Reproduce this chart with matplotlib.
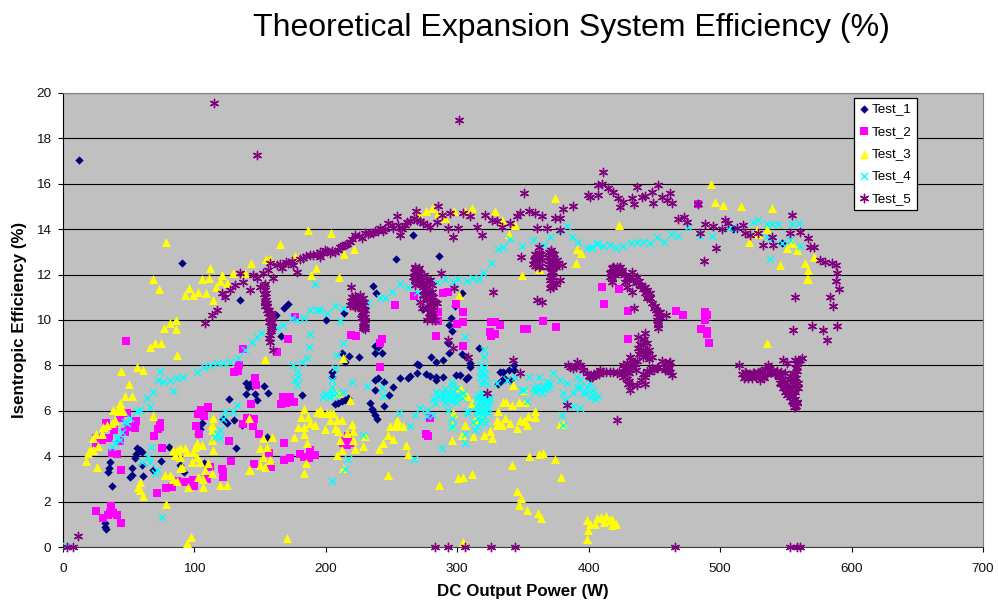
import matplotlib
matplotlib.use("Agg")
import matplotlib.pyplot as plt

plt.rcParams['font.family'] = ['Liberation Sans', 'DejaVu Sans']

#Valores, (potencia W, eficiencia %)
test_1 = [(12,17.05),(90.8,12.5),(134.4,10.9),(171.5,10.7),(168,10.55),(162,10.2),(166,9.28),
    (139,7.24),(141,7.06),(142,7.2),(144,7.1),(153,7.1),(156,6.77),(146,6.74),(147.4,6.47),(139,6.74),
    (126,6.5),(182,6.68),(106,5.45),(104,5.2),(103,5),(122,5.66),(124.5,5.45),(130,5.6),(136,5.37),(132,4.36),
    (155,4.86),(56,4.34),(55.5,4.1),(60,4.2),(54.8,3.9),(58.6,4.27),(80.4,4.42),(74.6,3.8),(68.7,3.4),
    (35.8,3.74),(35,3.46),(34.5,3.32),(52.2,3.46),(52.2,3.17),(51,3.1),(60.6,3.12),(60,3.6),(37,2.7),
    (92,3.32),(107,3.68),(89,3.6),(32,1.04),(32,0.9),(32.7,0.8),
    (266,13.73),(253.7,12.69),(286,12.82),(235.7,11.5),(238,11.2),(214,10.3),(200,10),(274,10.5),(303.4,11.2),
    (298,10.6),(295,10.1),(294,9.8),(296,9.5),(292.8,9),(237.5,8.87),(240,8.8),(237.5,8.54),(243,8.54),
    (225,8.35),(217.7,8.43),(212.6,8.54),(214.6,8.14),(204.5,7.7),(204.5,7.5),(280,8.35),(284,8.14),(289.5,8.24),
    (294,8.54),(303.4,8.5),(269,8.05),(271,8),(316.4,8.76),(307,8.39),(309.8,8.1),(310,7.92),
    (256.5,7.44),(262.8,7.44),(264,7.55),(269,7.66),(276,7.6),(279,7.54),(284,7.5),(289.5,7.5),(284,7.36),
    (299,7.58),(302,7.58),(308.5,7.5),(307,7.39),(237.5,7.36),(240,7.44),(244,7.29),(237.5,6.92),(251,7.07),
    (248,6.69),(244,6.2),(233.7,6.33),(235,6.1),(236,5.97),(237.5,5.82),(239,5.65),
    (207,6.3),(209.6,6.36),(212,6.41),(214.6,6.48),(217,6.55),(332.6,7.73),(335,7.73),(339,7.8),(343.5,8),
    (343.5,7.8),(334,7.36),(331,7.19),(336.4,7.39),(340,7.36),(510,14),(547,13.4)]

test_2 = [(48,9.07),(137,8.73),(171.5,9.17),(163,8.6),(176.5,10.14),(134,8),(130.4,7.69),(133,7.75),(146,7.46),
    (147,7.13),(167.4,6.6),(173,6.6),(176,6.4),(165.6,6.28),(170,6.33),(143,6.28),(110,6.18),(105,6.03),
    (103,5.86),(107.5,5.77),(101,5.34),(103.7,4.96),(140,5.7),(145,5.65),(137,5.42),(144.3,5.33),(149,4.96),
    (157,4.12),(168,4.58),(173,3.92),(168,3.83),(180.4,4.1),(183.4,3.98),(188,4.27),(187.5,3.9),(191.8,4.05),
    (158,3.54),(145.4,3.65),(126.3,4.68),(128,3.77),(121.2,3.45),(121.5,3.29),(121.5,3.1),(112,3.54),(109.3,3),
    (99,2.95),(98,2.8),(93,2.85),(86.5,2.9),(82.7,2.66),(78.4,2.6),(71.3,2.36),(100,2.69),(44,3.39),(75,4.37),
    (25,1.6),(36.3,1.8),(35.8,1.48),(34.5,1.41),(38.3,1.48),(41.3,1.41),(30.7,1.26),(43.9,1.04),
    (74,5.47),(72.5,5.2),(73.8,5.3),(69.5,4.9),(55.5,5.56),(54.8,5.23),(47,5.08),(49.7,5.3),(39,5.15),
    (32.5,5.45),(35,4.81),(43,4.68),(43.4,5.67),(48.4,5.9),(37,4.12),(41,4.1),(24.8,4.8),(29.4,4.71),(25,4.56),
    (267,11.06),(252.4,10.68),(289,11.2),(293.3,11.25),(299,10.72),(304,10.36),(285,10.34),(285,9.97),(282,10.03),
    (304,9.93),(299.6,9.84),(283.6,9.3),(304,8.87),(219,9.36),(223,9.31),(242.5,9.17),(241.3,9),(241,7.93),
    (326,9.89),(329,9.92),(332.6,9.76),(325,9.46),(329,9.4),(325.7,9.3),(351,9.59),(353.4,9.59),(365.3,9.97),
    (375,9.7),(276.3,5),(277.5,4.87),(279.3,5.67),(213.4,4.57),(216,4.5),(218.4,4.57),(217,4.87),(214.6,4.65),
    (410,11.44),(423,11.38),(411.7,10.72),(429.7,10.4),(429.7,9.16),(466.5,10.4),(472,10.2),(488.5,10.37),
    (489.8,10.2),(488.5,10),(485.5,9.6),(490,9.5),(490,9.37),(491.8,9),(483,15.1)]

test_3 = [(78,13.42),(165,13.34),(112,12.3),(143,12.5),(106,11.8),(111.4,11.86),(121.2,12),(119.5,11.7),
    (68.2,11.82),(72.8,11.35),(95.9,11.4),(92.6,11.1),(99,11.1),(102.5,11.24),(109,11.2),(114,10.9),(116.4,11.46),
    (124.5,11.64),(129,12.05),(138.5,12.08),(154.2,12.7),(157.5,12.7),(176.6,12.8),(192.3,12.3),(189,12),
    (186.7,13.96),(86,10),(81.4,9.85),(77,9.66),(86,9.6),(74.6,8.97),(69.8,8.97),(66.5,8.82),(86.7,8.45),(154,8.3),
    (56.6,7.94),(60.6,7.8),(44,7.75),(50,7.19),(47.4,6.63),(52.5,6.66),(43.6,6.36),(42.9,6.18),(37.8,6.02),
    (42,6),(45.9,6),(68.7,5.77),(39.6,5.59),(37,5.47),(33.2,5.37),(30.7,5.27),(29.4,5),(25,5),(23,4.79),(26.9,4.45),
    (23,4.27),(20.5,4.27),(19.3,4.12),(17.5,3.79),(25.6,3.54),(84,4.27),(86.5,4.27),(89,4.35),(93,4.35),(85.2,4.05),
    (89,3.98),(94,4.2),(99,4.2),(101.7,4.56),(100.4,4.42),(101.7,3.98),(104.2,3.76),(98,3.76),(90.3,3.54),(89,3.5),
    (110.6,3.68),(108,3.39),(113,3.24),(103,3.1),(106.8,3),(106.8,2.66),(95.4,2.66),(77.6,3.17),(81.4,3.17),(84,3),
    (86.5,2.9),(58.6,2.88),(58.6,2.51),(61,2.25),(57.3,2.66),(78,1.89),(114.4,4.27),(105.5,4.49),(113,5.37),
    (114.4,5.67),(113,5.15),(113,4.71),(141.8,5.67),(142.3,3.39),(152.5,4.79),(158.8,4.86),(150,4.34),(155,4.42),
    (152.5,3.98),(150,3.61),(157.5,3.83),(153.7,3.54),(141.5,3.39),(119.5,2.73),(124.5,2.73),(94,0.19),(97.4,0.43),
    (170.2,0.38),(183,6.1),(181,5.74),(186.7,5.74),(193,5.96),(195.6,6.03),(179,5.3),(183,5.3),(188,5.45),
    (191.8,5.37),(183,5),(185.4,4.56),(175.8,4.83),(185,3.68),(183.4,3.24),
    (203.7,13.82),(214,12.91),(221.7,13.12),(210.3,11.88),(270.4,14.7),(276.3,14.8),(280.6,14.95),(285.7,14.7),
    (290.7,14.5),(297.8,14.78),(306,14.78),(311,14.95),(328.8,14.82),(334,14.4),(344,14.19),(339,13.78),(391,13.12),
    (394.2,12.94),(390,12.5),(362,12.24),(349,12),(374.5,15.36),(301.6,11.08),(213.4,8.32),
    (203,5.9),(200.7,5.9),(205.7,5.9),(203,5.6),(208.3,5.6),(207,5.23),(199.4,5.19),(212,5.6),(197,5.9),(209.6,5.09),
    (215.9,5.03),(219.7,5.4),(221,5.09),(221,4.72),(210.8,4.72),(212,4.28),(208.3,4.06),(222.2,4.31),(228.6,4.43),
    (229.8,4.87),(218.4,6.48),(207,6.77),(209.6,6.77),(213.4,3.47),(254,5.6),(255,5.38),(252.7,5.31),(248.9,5.31),
    (259,5.34),(247.6,4.94),(250.9,4.75),(243.8,4.57),(240.8,4.31),(261,4.5),(262.3,4.09),(247.6,3.18),(286.4,2.74),
    (300.9,3.03),(304.7,3.1),(311.5,3.22),(295.8,4.72),(297,5.9),(295.8,5.38),(302,7.07),(304.7,6.77),(307.2,6.63),
    (311,6.33),(306,5.38),(303.4,4.94),(311.8,4.87),(320,4.94),(326.3,4.79),(313.6,5.6),(317.4,5.9),(325,5.09),
    (331.3,6),(330,5.6),(335,6.4),(337,6.4),(341.5,6.26),(347,6.4),(351.6,6.4),(359.2,6),(359.2,5.72),(354,5.75),
    (347.8,5.6),(345.3,5.23),(340,5.45),(333.9,5.38),(330,5.38),(352.9,5.38),(350.4,5.53),(377.8,5.41),(380.8,5.41),
    (336.4,5.67),(350.4,6.92),(342.7,7.14),(304.7,0.24),(341.5,3.62),(354.7,4),(362.5,4.1),(365,4.13),(374.5,3.88),
    (378.8,3.08),(345.3,2.47),(348.3,2.15),(347.3,1.83),(353.4,1.64),(361.3,1.49),(363.8,1.27),(398.6,1.2),(401,1),
    (406.2,1.27),(399.8,0.76),(398.6,0.35),(405,1.0),(409,1.3),(413,1.35),(416,1.2),(418,1.25),(421,1.0),(418,0.95),
    (412,1.1),(492.8,15.99),(496,15.2),(502.5,15.08),(516,15),(539.3,14.95),(423.3,14.2),(527.9,13.96),(529,13.8),
    (535.5,14),(522.3,13.44),(550.7,13.16),(554.5,13.38),(558.3,13.08),(571.7,12.76),(545.6,12.42),(564.6,12.5),
    (567,12.2),(566,11.8),(567,11.8),(536,8.97)]

test_4 = [(2,0.05),(191.8,11.57),(188,10.44),(193,10.44),(183,10.07),(178,10),(174,10.07),(167.7,9.78),(162.6,9.63),
    (151,9.41),(147.4,9.26),(143.6,9.04),(138.5,8.68),(133.4,8.31),(127,8.16),(122,8.09),(117,8.09),(112,8),(107,7.94),
    (101.7,7.72),(91.6,7.5),(86.5,7.43),(81.4,7.35),(76.3,7.28),(72.5,7.35),(68.7,6.84),(63.7,6.55),(66.2,6.18),
    (58.6,6.03),(56,6),(51,5.67),(47.2,5.52),(44.6,5.08),(40.8,4.79),(37,4.42),(73.8,7.75),(83.5,6.88),(48.4,5.45),
    (42,4.86),(43.4,4.71),(39.6,4.56),(188,9.37),(187.5,8.79),(185.4,8.31),(181.6,8.16),(175.3,8),(177.8,7.72),
    (179,7.5),(178.3,7.13),(176.6,7.35),(132.2,6.25),(129.6,5.96),(123.3,5.96),(122,5.66),(119.5,5.15),(115.7,4.86),
    (119.5,4.78),(117,5),(67,4.42),(65,3.98),(66.2,3.76),(59.9,3.76),(71.3,3.39),(70,3.24),(75.6,1.33),
    (195.6,10.45),(200.7,10.3),(207,10.6),(213.4,10.52),(210.8,9.97),(213.4,8.98),(208.3,8.46),(207,7.88),(204.5,7.36),
    (204.5,7.07),(199.4,6.7),(204.5,6.77),(213.4,6.85),(220.2,7.26),(231.1,7.11),(242.5,7),(243.8,6.63),(228.6,4.94),
    (217.2,3.87),(214.6,3.43),(204.5,2.91),(267.4,3.87),(288.7,4.38),(305.5,4.57),(306,9.24),
    (232.4,10.74),(241.3,10.96),(245,10.96),(250,11.25),(256.5,11.59),(262.8,11.47),(269.2,11.25),(284.4,11.69),
    (290.7,11.81),(297,11.69),(300.9,11.8),(307.2,11.72),(312.3,11.84),(316.9,11.8),(319.9,12.09),(325.5,12.5),
    (331.3,13.13),(334.6,13.23),(340.2,13.56),(349,13.26),(357.5,13.53),(365.6,13.3),(370.6,13.67),(378.3,13.9),
    (383.3,14.12),(387.1,13.67),(392.2,13.42),(398.6,13.16),(402.4,13.16),(406.2,13.38),
    (281.9,6.5),(285.7,6.63),(289.5,6.55),(293.3,6.77),(295.8,7.29),(297,6.85),(300.9,6.63),(290.7,6.33),(295.8,6.41),
    (299.6,7),(303.4,6.55),(293.3,6.04),(304.7,6.77),(297,5.31),(271.7,6.11),(276.8,6.04),(281.9,5.82),(267.9,5.82),
    (264,5.34),(256,5.9),(276.8,5.75),(295.8,5.67),(295,5.3),(320,6.63),(317.4,6.41),(322.5,6.33),(320,6.04),
    (316.1,5.89),(323.7,5.89),(318.6,5.6),(325,6.56),(313.6,5.16),(308.5,5.89),(306,5),(321.2,5.45),(318.6,7.66),
    (320,7.36),(317.4,7.5),(320,8.39),(320,8.68),(322.5,7.22),(330,7.22),(337.7,7.36),(344,7.5),(351,6.92),(352.9,6.41),
    (354.2,7.5),(349,6.92),(307.2,5.97),(358,7),(361.8,6.92),(365.6,7.07),(370.6,7.22),(373.2,7.66),(378.3,7.36),
    (383.3,7.22),(380.8,6.77),(382,6.48),(379.5,5.82),(380.8,5.38),(388.4,6.19),(393.5,6.11),(391,7.51),(393.5,7.36),
    (398.6,7.07),(388.4,6.77),(396,6.77),(403.6,6.7),(407.4,6.63),(361.8,7.51),(364.3,6.77),(368.1,7.29),(393.5,7.07),
    (401,7.22),(391,7.07),(398,6.8),(401,6.6),(403,6.9),(405,6.5),
    (402,13.23),(406.6,13.35),(411,13.26),(416.2,13.3),(420.8,13.19),(425.9,13.26),(432,13.41),(436.5,13.42),
    (441.6,13.45),(446.7,13.38),(451.7,13.67),(457.3,13.45),(462.6,13.77),(468.2,13.72),(475.3,14.08),(484.7,13.72),
    (493.6,13.7),(507,14.04),(513.9,14.04),(525.3,14.3),(529,14.4),(535.5,14.23),(539.3,14.23),(544.3,14.21),
    (554.5,14.21),(560.3,14.26),(538,12.69),(535.5,13.67),(539.3,13.55),(546.9,13.38),(553.2,13.52),(560.8,13.26),
    (316,6.7),(318,6.75),(320,6.8),(322,6.7),(315,6.5),(318,6.5),(321,6.5),(324,6.45),(314.5,6.2),(317,6.2),(320,6.25),
    (323,6.15),(315,6),(318,5.95),(322,5.95),(316,5.7),(320,5.75),(312,5.5),(315,5.3),(317,5.5),(318,7.8),(320,7.9),
    (321,7.6),(319,7.2),(318,8),(284,6.85),(287,6.7),(289,6.8),(291,6.6),(293,6.5),(295,6.75),(296,6.55),(298,6.6),
    (299,6.4),(291,6.95),(296,7.1),(283,6.35),(198,6.6),(201,6.75),(203,6.6),(206,6.7),(208,6.8),(359,6.85),(361,7.1),
    (363,6.95),(366,6.95),(368,7.1),(370,7)]

test_5 = [(11.7,0.48),(7.8,0),(2.8,0),(115,19.56),(147.6,17.27),(301.4,18.8),
    (108,9.85),(113,10.22),(117,10.44),(120.7,11.17),(123.3,11),(127,11.32),(130.9,11.54),(134.7,12.05),(137.2,11.68),
    (142.3,11.32),(144.8,12),(147.4,11.83),(149.9,11.46),(152.5,12.05),(156.3,12.2),(160,11.83),(157.5,12.5),
    (162.6,12.42),(166.4,12.27),(171.5,12.5),(175.3,12.42),(177.8,12.13),(182.9,12.71),(188,12.86),(193,12.9),
    (195.6,12.79),(153.7,11.32),(153.7,11),(153.7,10.73),(155,10.44),(158.8,10.07),(158.8,9.7),(157.5,9.34),
    (157.5,9.04),(160,8.68),(154.5,10.9),(156,10.3),(157,9.9),(158,9.5),(159,10.2),(154,10.6),(155.5,10.6),
    (195.6,13.01),(199.4,13.09),(203.2,12.94),(207,13),(210.8,13.23),(214.6,13.31),(218.4,13.45),(222.2,13.75),
    (227.3,13.6),(229.8,13.85),(233.7,13.85),(237.5,13.9),(241.3,14.04),(243.8,13.9),(247.6,14.26),(251.4,14.04),
    (254.5,14.56),(256.5,13.75),(260.3,14.19),(264.1,14.34),(268.4,14.8),(269.2,14.41),(274.2,14.26),(279.3,14.11),
    (284.4,14.33),(285.2,15),(288.2,14.63),(293.3,14.04),(294.5,14.7),(297,13.67),(300.9,14.04),(304.7,14.7),
    (309.8,14.56),(314.8,14.11),(318.6,13.75),(321.2,14.63),(326.3,14.41),(330,14.34),(333.9,14.11),(340.2,14.26),
    (345.3,14.56),(347.8,14.7),(354.2,14.78),(359.2,14.7),(364.3,14.56),(360.5,14.04),(368.1,14.04),(374.5,14.48),
    (378.3,14.48),(377.8,13.97),(380.8,14.88),(388.4,15.02),(399.8,15.51),(350.4,15.58),
    (267.9,12.28),(270.4,12.21),(266.6,11.91),(269.2,11.77),(271.7,11.62),(274.2,11.47),(276.8,11.62),(279.3,11.77),
    (274.2,11.1),(276.8,10.89),(278,10.52),(279.3,10.3),(280.6,10),(283.1,10),(276.8,10),(271.7,10.81),(273,10.52),
    (267.9,11.84),(271.7,11.91),(287.7,12.09),(219.2,11.47),(297.8,11.4),(327.5,11.25),(308.5,8.39),(293.3,9.12),
    (297,8.76),(342.7,8.24),(347.8,7.66),(322.5,6.77),(383.3,6.26),(219.7,11.03),(221,10.81),(218.4,10.67),(222.2,10.59),
    (226,11.1),(227.3,10.81),(224.8,10.59),(228.6,10.67),(229.8,10.44),(227.3,10.37),(228.6,10.22),(229.8,10),
    (229.8,9.71),(228.6,9.64),(361.8,13.23),(360.5,12.87),(358,12.65),(364.3,12.65),(360.5,12.5),(361.8,12.35),
    (371.4,13.09),(369.4,12.79),(373.2,12.79),(371.9,12.5),(369.4,12.35),(379.5,12.43),(375.7,12.5),(371.9,12.13),
    (370.6,11.77),(373.2,11.47),(378.3,11.77),(370.6,11.4),(360.5,10.89),(364.3,10.81),(348.6,12.79),
    (384.6,8.02),(391,8.17),(394.8,7.95),(398.6,7.66),(402.4,7.51),(406.2,7.66),(408.7,7.8),(388.4,7.88),
    (410.6,16.53),(409.9,16),(407.3,15.95),(407.3,15.51),(401,15.43),(415,15.8),(418.8,15.65),(422.6,15.36),(426.4,15.21),
    (432.7,15.36),(423.8,14.96),(434.7,15.11),(436.5,15.84),(440.3,15.43),(442.9,15.46),(449.2,15.14),(447.9,15.65),
    (453,15.95),(455.5,15.43),(461.9,15.58),(459.4,15.29),(463.2,15.17),(468.2,14.43),(472.8,14.52),(474.6,14.33),
    (482.9,15.1),(488.5,14.23),(484.7,13.82),(488,12.6),(496.9,13.16),(494.9,14.14),(501.2,14),(503.7,14.41),(506.3,14.26),
    (512.6,14.04),(517.7,14.18),(519,13.82),(522.8,13.74),(529.1,13.82),(532.9,13.3),(539.3,13.67),(540.5,13.3),
    (553.2,13.82),(554.5,14.62),(560.8,13.89),(567.2,13.6),(568.4,13.23),(571.5,13.23),(576,12.64),(579.9,12.57),
    (585,12.5),(588.2,12.42),(588.7,12.09),(588,11.73),(590.8,11.37),(583.7,11),(586.2,10.6),(588.7,9.75),(581.1,9.12),
    (578.6,9.56),(569.7,9.75),(555.8,9.56),(556.8,11),
    (418.8,12.35),(423.8,12.35),(416.2,12.06),(420,11.98),(425.1,12.13),(417.5,11.69),(427.6,11.69),(432.7,12.13),
    (428.9,11.47),(432.7,11.25),(436.5,11.91),(439.1,11.54),(442.9,11.47),(446.7,11.18),(444.1,10.96),(450.5,10.6),
    (454.3,10.37),(454.3,10.15),(458.8,10.22),(453,9.85),(452.5,9.63),(434.7,10.51),
    (401,7.5),(406,7.65),(411,7.73),(416.2,7.73),(421.3,7.65),(426.4,7.73),(426.4,8.02),(431.4,8.39),(431.4,8.02),
    (434,8.17),(437.8,9.27),(442.9,9.41),(437.8,8.75),(444.1,8.97),(445.4,8.46),(447.9,8.39),(426.4,7.5),(430.2,7.2),
    (431.4,6.92),(436.5,7.14),(442.9,7.2),(442.9,7.5),(447.9,7.87),(453,7.95),(458.1,8.09),(461.9,8.17),(460.6,7.8),
    (463.2,7.58),(458.1,7.8),(421.3,5.6),
    (514.4,8.02),(519,7.72),(519,7.5),(525.3,7.65),(530.4,7.36),(530.4,7.72),(536.7,8.02),(538,7.72),(544.3,7.58),
    (545.6,7.21),(548.1,8.24),(550.7,8.09),(557,8.24),(562.1,8.31),(558.3,7.95),(555.8,7.65),(553.2,7.36),(549.4,7.07),
    (550.7,6.7),(555.8,6.4),(557,6.18),(558.3,6.4),(553.2,6.92),(559.6,7.21),
    (283,0),(293.3,0),(306,0),(325.5,0),(344,0),(465.7,0),(553,0),(558.6,0),(561,0),
    #zonas densas
    (517,7.6),(518.5,7.45),(520,7.65),(521.5,7.45),(523,7.6),(524.5,7.45),(526,7.65),(527.5,7.5),(529,7.7),(530.5,7.55),
    (532,7.75),(533,7.45),(534.5,7.85),(536,7.6),(537.5,7.9),(539,7.7),(540.5,7.8),(542,7.6),(543.5,7.75),(545,7.5),
    (546,7.7),(547.5,7.4),(549,7.65),(546,7.2),(547.5,7),(548.5,7.25),(549.5,6.85),(550.5,7.15),(551.5,6.75),(552.5,7),
    (553,6.6),(554,6.85),(554.5,6.45),(555.5,6.65),(556,6.3),(557,6.5),(557.5,6.2),(558.5,6.35),(556,6.15),(557,7.2),
    (558,7.45),(557,7.6),(558.5,7.75),(557.5,7.9),(558.5,8.05),(559.5,8.2),(556,7.4),(555,7.1),(553.5,7.55),(559,7),
    (557,6.85),(561,8.25),
    (267.9,12.35),(270.5,12.27),(266.7,12.12),(271.7,12.05),(269.2,11.98),(274.3,11.98),(267.9,11.76),(273,11.76),
    (276.8,11.76),(279.3,11.76),(267.9,11.54),(273,11.54),(276.8,11.46),(280.6,11.54),(274.3,11.32),(278.1,11.24),
    (280.6,11.24),(275.5,11.1),(279.3,11.02),(281.9,11.02),(276.8,10.88),(280.6,10.8),(283.1,10.8),(278.1,10.58),
    (281.9,10.58),(279.3,10.36),(281.9,10.29),(278.1,10.14),(280.6,10.07),(284.4,10.73),
    (220,11),(222,11.05),(224,10.95),(219,10.85),(223,10.8),(225.5,10.9),(226.5,10.7),(221,10.65),(228,10.95),(229,10.8),
    (227,10.55),(229,10.5),(228,10.3),(226.8,10.1),(229.5,10.15),(228.5,9.9),(230,9.85),(228,9.75),(230,9.6),
    (359,12.9),(362,12.95),(359.5,12.7),(362,12.7),(364,12.9),(357.5,12.45),(359,12.4),(363,12.4),
    (370,13),(372,12.95),(373.5,12.9),(370,12.6),(372,12.65),(374,12.6),(376,12.65),(370.5,12.35),(373,12.35),(375,12.35),
    (371,12.1),(373,12.1),(370.5,11.9),(372.5,11.9),(371,11.65),(373,11.65),(375,11.6),
    (417.5,12.3),(419.5,12.3),(421.5,12.35),(423,12.3),(425,12.2),(417,12.1),(418.5,12.05),(421,12.1),(416.5,11.9),
    (418,11.8),(423,12.2),(427,12),(429,11.85),(431,11.8),(434,11.75),(436,11.65),(438,11.7),(440,11.5),(441.5,11.35),
    (443,11.2),(444,11.3),(445,11.05),(447,10.95),(448,10.75),(449.5,10.55),(451,10.45),(452,10.3),(453,10.15),(452,10),
    (453.5,10.35),(452.5,9.8),
    (403,7.55),(408,7.65),(413,7.7),(418.5,7.7),(423,7.7),(425,7.6),(427,7.9),(428,7.75),(429,8.1),(430,7.85),(431,7.65),
    (432,8.25),(433,7.9),(435,8.05),(436,7.8),(437,8.2),(438,8.5),(440,8.6),(439,8.95),(441,8.9),(442,9.15),(443,8.7),
    (444,8.5),(445.5,8.7),(446,8.3),(441,8.35),(431,7.3),(429,7.4),(433,7.15),(440,7.35),(441,7.6),(444,7.75),(446,7.7),
    (450,7.8),(452,7.9),(456,8.2),(460,8),(461,7.9),(462,7.7),(459,7.9),(461,8.1),
    (386,7.95),(390,7.95),(393,8),(396,7.8),(400,7.55),(404,7.6),(408,7.6),
    (154,11.6),(153,11.5),(153,11.15),(154.5,11.2),(154,10.85),(155,10.75),(156.5,10.45),(157,10.15),(158,10.3),(158,9.85),
    (159,9.9),(158,9.6),(157,9.2),
    (165,12.45),(170,12.55),(174,12.6),(180,12.7),(185,12.8),(190,12.85),(198,12.95),(201,13.05),(205,13.05),(209,13.1),
    (212,13.25),(216,13.35),(220,13.55),(225,13.7),(232,13.8),(236,13.85),(240,13.9),(245,14),(250,14.2),(255,14.2),
    (258,14),(262,14.3),(267,14.5),(272,14.35),(277,14.2)]

series_names = ['Test_1', 'Test_2', 'Test_3', 'Test_4', 'Test_5']
series_data = [test_1, test_2, test_3, test_4, test_5]
colores = ['#000080', '#FF00FF', '#FFFF00', '#00FFFF', '#800080']
marcadores = ['D', 's', '^', 'x', (6, 2, 0)]
tamanos = [18, 28, 42, 26, 36]

fig = plt.figure(figsize=(9.98, 6.01), dpi=100)
ax = fig.add_axes([63/998, 1-547/601, 920/998, 454/601])
ax.set_facecolor('#C0C0C0')

for nombre, datos, c, m, s in zip(series_names, series_data, colores, marcadores, tamanos):
    x = [p[0] for p in datos]
    y = [p[1] for p in datos]
    if m in ('D', 's', '^'):
        ax.scatter(x, y, c=c, marker=m, s=s, linewidths=0, label=nombre, clip_on=False, zorder=3)
    else:
        ax.scatter(x, y, c=c, marker=m, s=s, linewidths=1.0, label=nombre, clip_on=False, zorder=3)

ax.set_xlim(0, 700)
ax.set_ylim(0, 20)
ax.set_xticks(range(0, 701, 100))
ax.set_yticks(range(0, 21, 2))
ax.grid(axis='y', color='black', linewidth=0.8)
ax.set_axisbelow(True)
ax.tick_params(labelsize=9.7, length=3.5, width=0.8, color='black', labelcolor='#111111')
ax.tick_params(axis='x', pad=8)
ax.tick_params(axis='y', pad=5)
for lado in ['top', 'right']:
    ax.spines[lado].set_color('#808080')
    ax.spines[lado].set_linewidth(0.8)
ax.spines['bottom'].set_color('#404040')

ax.set_xlabel('DC Output Power (W)', fontsize=12.2, fontweight='bold')
ax.set_ylabel('Isentropic Efficiency (%)', fontsize=12.2, fontweight='bold')
ax.xaxis.set_label_coords(0.5, -(584-547)/454)
ax.yaxis.set_label_coords((27-63)/920, 0.5)
fig.text(571.5/998, 1-28/601, 'Theoretical Expansion System Efficiency (%)', fontsize=23,
         ha='center', va='center')

leg = ax.legend(loc='upper left', bbox_to_anchor=(853.5/998, 1-98/601), bbox_transform=fig.transFigure,
                fontsize=9.7, frameon=True, fancybox=False, framealpha=1, edgecolor='black',
                borderaxespad=0, labelspacing=0.73, handlelength=0.78, handletextpad=0.18, borderpad=0.38)
leg.get_frame().set_linewidth(0.9)

plt.savefig('out.png', dpi=100)
